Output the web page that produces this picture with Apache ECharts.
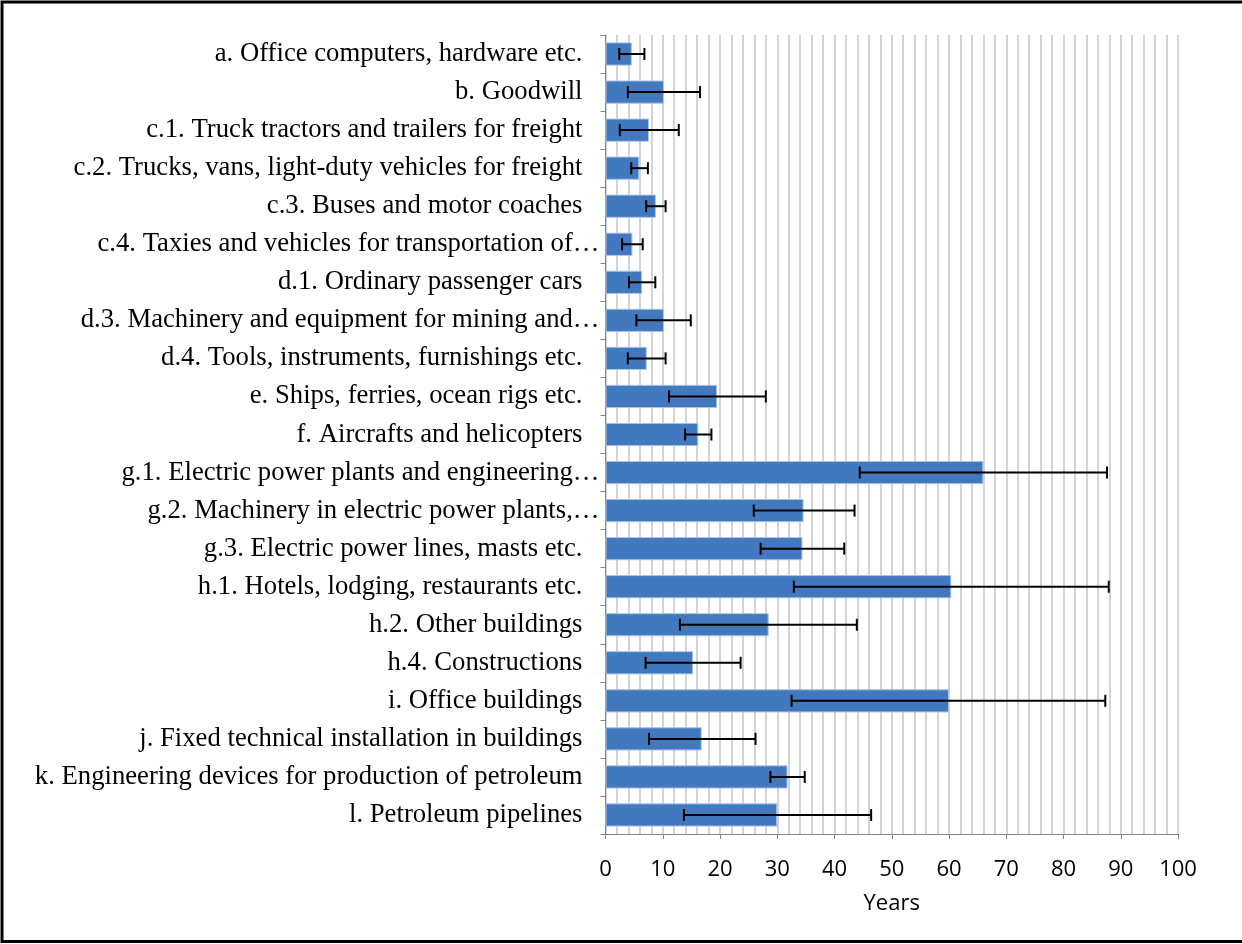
<!DOCTYPE html>
<html>
<head>
<meta charset="utf-8">
<script src="https://cdn.jsdelivr.net/npm/echarts@6/dist/echarts.min.js"></script>
<style>
html,body{margin:0;padding:0;background:#fff;}
#chart{width:1242px;height:944px;}
</style>
</head>
<body>
<div id="chart"></div>
<script>
var categories = [
  "a. Office computers, hardware etc.",
  "b. Goodwill",
  "c.1. Truck tractors and trailers for freight",
  "c.2. Trucks, vans, light-duty vehicles for freight",
  "c.3. Buses and motor coaches",
  "c.4. Taxies and vehicles for transportation of…",
  "d.1. Ordinary passenger cars",
  "d.3. Machinery and equipment for mining and…",
  "d.4. Tools, instruments, furnishings etc.",
  "e. Ships, ferries, ocean rigs etc.",
  "f. Aircrafts and helicopters",
  "g.1. Electric power plants and engineering…",
  "g.2. Machinery in electric power plants,…",
  "g.3. Electric power lines, masts etc.",
  "h.1. Hotels, lodging, restaurants etc.",
  "h.2. Other buildings",
  "h.4. Constructions",
  "i. Office buildings",
  "j. Fixed technical installation in buildings",
  "k. Engineering devices for production of petroleum",
  "l. Petroleum pipelines"
];
var values  = [4.6, 10.2, 7.6, 5.9, 8.8, 4.7, 6.4, 10.2, 7.2, 19.5, 16.2, 66.0, 34.6, 34.4, 60.4, 28.5, 15.3, 60.0, 16.8, 31.8, 30.0];
var errLow  = [2.4, 3.9, 2.5, 4.5, 7.1, 2.9, 4.1, 5.4, 3.9, 11.1, 13.9, 44.4, 25.9, 27.1, 32.9, 13.0, 7.0, 32.5, 7.6, 28.8, 13.7];
var errHigh = [6.8, 16.5, 12.8, 7.4, 10.5, 6.5, 8.7, 14.9, 10.5, 28.0, 18.5, 87.6, 43.5, 41.7, 87.9, 43.9, 23.6, 87.3, 26.2, 34.8, 46.4];
var xTicks = [0, 10, 20, 30, 40, 50, 60, 70, 80, 90, 100];
var xTitle = "Years";

var errData = categories.map(function (c, i) { return [i, errLow[i], errHigh[i]]; });
var catItems = categories.map(function (c) {
  if (c.charAt(c.length - 1) === '…') {
    return {value: c, textStyle: {padding: [0, -17, 0, 0]}};
  }
  return c;
});

var chart = echarts.init(document.getElementById('chart'), null, {renderer: 'canvas'});
chart.setOption({
  animation: false,
  backgroundColor: '#ffffff',
  graphic: [{
    type: 'rect',
    shape: {x: 2, y: 2, width: 1300, height: 939.5},
    style: {fill: 'none', stroke: '#000', lineWidth: 3},
    silent: true
  }],
  grid: {left: 605.5, right: 64, top: 35, bottom: 110, containLabel: false},
  xAxis: {
    type: 'value',
    min: xTicks[0],
    max: xTicks[xTicks.length - 1],
    interval: 10,
    name: xTitle,
    nameLocation: 'middle',
    nameGap: 59,
    nameTextStyle: {fontFamily: 'Open Sans', fontSize: 22, color: '#000'},
    axisLine: {show: true, lineStyle: {color: '#868686', width: 1}},
    axisTick: {show: true, length: 5, lineStyle: {color: '#868686'}},
    axisLabel: {fontFamily: 'Open Sans', fontSize: 22, color: '#000', margin: 25,
      formatter: function (v) { return xTicks.indexOf(v) >= 0 ? String(v) : ''; }},
    splitLine: {show: true, lineStyle: {color: '#c6c6c6', width: 1.5}},
    minorTick: {show: false, splitNumber: 5},
    minorSplitLine: {show: true, lineStyle: {color: '#c6c6c6', width: 1.5}}
  },
  yAxis: {
    type: 'category',
    data: catItems,
    inverse: true,
    axisLine: {show: true, lineStyle: {color: '#868686', width: 1}},
    axisTick: {show: true, length: 5, lineStyle: {color: '#868686'}},
    axisLabel: {fontFamily: 'Liberation Serif', fontSize: 26.7, color: '#000', margin: 23},
    splitLine: {show: false}
  },
  series: [{
    type: 'bar',
    data: values,
    barCategoryGap: '39%',
    itemStyle: {color: '#4178BE', borderColor: '#a9c4e6', borderWidth: 1}
  }, {
    type: 'custom',
    data: errData,
    encode: {x: [1, 2], y: 0},
    z: 10,
    renderItem: function (params, api) {
      var lo = api.coord([api.value(1), api.value(0)]);
      var hi = api.coord([api.value(2), api.value(0)]);
      var cap = 6;
      var st = {stroke: '#000', lineWidth: 2};
      return {
        type: 'group',
        children: [
          {type: 'line', shape: {x1: lo[0], y1: lo[1], x2: hi[0], y2: hi[1]}, style: st},
          {type: 'line', shape: {x1: lo[0], y1: lo[1] - cap, x2: lo[0], y2: lo[1] + cap}, style: st},
          {type: 'line', shape: {x1: hi[0], y1: hi[1] - cap, x2: hi[0], y2: hi[1] + cap}, style: st}
        ]
      };
    }
  }]
});
</script>
</body>
</html>
